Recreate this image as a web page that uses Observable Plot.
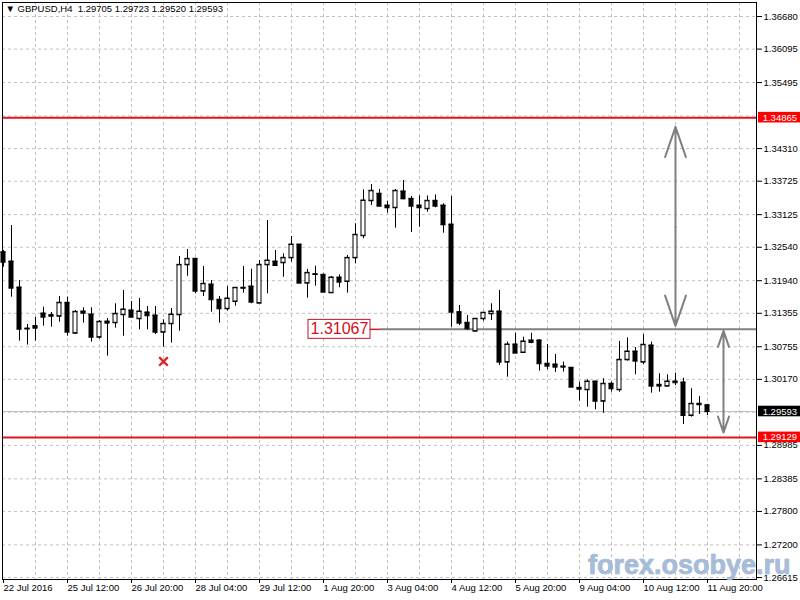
<!DOCTYPE html>
<html><head><meta charset="utf-8">
<script src="https://cdn.jsdelivr.net/npm/d3@7"></script>
<script src="https://cdn.jsdelivr.net/npm/@observablehq/plot@0.6"></script>
<style>body{margin:0;background:#fff} #chart svg{display:block}</style>
</head><body><div id="chart"></div>
<script>
const symbolName = "GBPUSD,H4";
const opens = [
1.32451,1.32284,1.31818,1.31082,1.31124,1.31352,1.31321,1.31303,1.31544,1.30998,
1.31388,1.31334,1.30926,1.31208,1.31185,1.31329,1.31406,1.31257,1.31370,1.31316,
1.31016,1.31167,1.31329,1.32225,1.32332,1.31752,1.31872,1.31598,1.31436,1.31567,
1.31813,1.31836,1.31537,1.32225,1.32284,1.32261,1.32350,1.32589,1.31896,1.32056,
1.32045,1.31723,1.31997,1.31926,1.32350,1.32746,1.33374,1.33500,1.33289,1.33248,
1.33541,1.33409,1.33289,1.33230,1.33374,1.33289,1.32948,1.31375,1.31185,1.31034,
1.31257,1.31346,1.31388,1.30479,1.30796,1.30652,1.30868,1.30868,1.30450,1.30437,
1.30401,1.30378,1.30019,1.29983,1.30132,1.29778,1.30091,1.29983,1.30521,1.30670,
1.30479,1.30778,1.30073,1.30048,1.30132,1.30114,1.29522,1.29732,1.29705];
const highs = [
1.32482,1.32930,1.31944,1.31154,1.31280,1.31465,1.31370,1.31657,1.31644,1.31406,
1.31454,1.31454,1.31226,1.31262,1.31526,1.31765,1.31567,1.31621,1.31477,1.31477,
1.31239,1.31441,1.32374,1.32500,1.32343,1.32194,1.31944,1.31657,1.31836,1.31818,
1.32194,1.32146,1.32302,1.33020,1.32482,1.32422,1.32733,1.32589,1.32141,1.32200,
1.32063,1.32015,1.32045,1.32392,1.32961,1.33571,1.33666,1.33577,1.33361,1.33577,
1.33738,1.33451,1.33462,1.33462,1.33480,1.33320,1.33451,1.31495,1.31316,1.31262,
1.31375,1.31526,1.31765,1.30838,1.30998,1.30926,1.30998,1.30880,1.30796,1.30617,
1.30479,1.30378,1.30120,1.30163,1.30132,1.30180,1.30120,1.30850,1.30916,1.30742,
1.30975,1.30838,1.30270,1.30252,1.30281,1.30191,1.30001,1.29863,1.29723];
const lows = [
1.32182,1.31644,1.30855,1.30784,1.30855,1.31124,1.31106,1.31196,1.30944,1.30975,
1.31178,1.30838,1.30890,1.30586,1.31088,1.30944,1.31274,1.31059,1.31059,1.30975,
1.30748,1.30820,1.31034,1.32020,1.31705,1.31657,1.31375,1.31178,1.31393,1.31483,
1.31716,1.31526,1.31526,1.31705,1.32200,1.32002,1.32272,1.31890,1.31626,1.31842,
1.31730,1.31720,1.31813,1.31716,1.32243,1.32692,1.33289,1.33259,1.33151,1.32882,
1.33391,1.32805,1.32900,1.33169,1.33248,1.32792,1.31106,1.31136,1.31047,1.31030,
1.31213,1.31226,1.30420,1.30209,1.30636,1.30648,1.30809,1.30317,1.30343,1.30294,
1.30300,1.30019,1.29778,1.29671,1.29624,1.29563,1.29940,1.29940,1.30497,1.30252,
1.30437,1.29922,1.29940,1.30045,1.30060,1.29360,1.29492,1.29540,1.29520];
const closes = [
1.32272,1.31806,1.31070,1.31073,1.31088,1.31285,1.31303,1.31544,1.31016,1.31382,
1.31357,1.30926,1.31203,1.31178,1.31346,1.31424,1.31285,1.31388,1.31311,1.31016,
1.31167,1.31334,1.32225,1.32332,1.31752,1.31885,1.31598,1.31436,1.31621,1.31813,
1.31806,1.31555,1.32225,1.32302,1.32212,1.32350,1.32589,1.31896,1.32081,1.32051,
1.31734,1.31997,1.31913,1.32350,1.32764,1.33379,1.33553,1.33277,1.33248,1.33553,
1.33409,1.33277,1.33248,1.33374,1.33277,1.32943,1.31375,1.31178,1.31077,1.31257,
1.31365,1.31388,1.30479,1.30796,1.30640,1.30850,1.30832,1.30450,1.30407,1.30389,
1.30389,1.30030,1.29994,1.30132,1.29778,1.30091,1.30001,1.30521,1.30670,1.30497,
1.30791,1.30048,1.30048,1.30132,1.30109,1.29522,1.29732,1.29714,1.29593];

const timeLabels = ["22 Jul 2016","25 Jul 12:00","26 Jul 20:00","28 Jul 04:00","29 Jul 12:00","1 Aug 20:00","3 Aug 04:00","4 Aug 12:00","5 Aug 20:00","9 Aug 04:00","10 Aug 12:00","11 Aug 20:00"];
const priceTicks = [1.36680,1.36095,1.35495,1.34310,1.33725,1.33125,1.32540,1.31940,1.31355,1.30755,1.30170,1.28985,1.28385,1.27800,1.27200,1.26615];
const hiddenGrid = [1.34895,1.29580];
const redLevels = [1.34865,1.29129];
const midLevel = 1.31067;
const arrowsAnn = [{i:84, mid:1.32900, a:1.34700, b:1.31130},{i:90, mid:1.30130, a:1.31040, b:1.29215}];
const crossMark = [{i:20, price:1.30491}];
const watermark = "forex.osobye.ru";

const bars = opens.map((o,i)=>({i, open:o, high:highs[i], low:lows[i], close:closes[i]}));
const last = bars[bars.length-1];
const lastClose = last.close;
const markers = [
  {price:redLevels[0], color:"#ff0000"},
  {price:lastClose, color:"#000000"},
  {price:redLevels[1], color:"#ff0000"}
];
const titleText = `▼ ${symbolName}  ${last.open.toFixed(5)} ${last.high.toFixed(5)} ${last.low.toFixed(5)} ${last.close.toFixed(5)}`;
const xTickIdx = timeLabels.map((_,k)=>k*8);
const font = "'Liberation Sans', Arial, sans-serif";
const gridStyle = {stroke:"#c0c0c0", strokeOpacity:1, strokeDasharray:"3,3"};
const hw = 0.25;

const chart = Plot.plot({
  width:800, height:600,
  marginLeft:2, marginRight:44, marginTop:2, marginBottom:21,
  style:{fontFamily:font, fontSize:"9.5px", background:"#fff", color:"#000", overflow:"visible"},
  x:{type:"linear", domain:[0,88], range:[3,707], label:null},
  y:{type:"linear", domain:[1.26615,1.36680], range:[577,16], label:null},
  color:{type:"identity"},
  marks:[
    Plot.gridX(d3.range(4,93,4), gridStyle),
    Plot.gridY(priceTicks.concat(hiddenGrid), gridStyle),
    Plot.ruleY([lastClose], {stroke:"#c0c0c0", strokeWidth:1}),
    Plot.ruleY(redLevels, {stroke:"#e3141b", strokeWidth:2}),
    Plot.ruleY([midLevel], {x1:47.125, x2:94.125, stroke:"#808080", strokeWidth:2}),
    Plot.ruleY([midLevel], {x1:45.875, x2:47.125, stroke:"#d01a2a", strokeWidth:1.5}),
    Plot.ruleX(bars, {x:"i", y1:"low", y2:"high", stroke:"#000", strokeWidth:1}),
    Plot.rect(bars.filter(d=>d.close>=d.open), {x1:d=>d.i-hw, x2:d=>d.i+hw, y1:"open", y2:"close", fill:"#fff", stroke:"#000", strokeWidth:1}),
    Plot.rect(bars.filter(d=>d.close<d.open), {x1:d=>d.i-hw, x2:d=>d.i+hw, y1:"open", y2:"close", fill:"#000", stroke:"#000", strokeWidth:1}),
    Plot.ruleY(bars, {y:"open", x1:d=>d.i-0.3125, x2:d=>d.i+0.3125, stroke:"#000"}),
    Plot.ruleY(bars, {y:"close", x1:d=>d.i-0.3125, x2:d=>d.i+0.3125, stroke:"#000"}),
    Plot.rect([midLevel], {x1:38.125, x2:45.875, y1:d=>d-0.0017, y2:d=>d+0.0017, fill:"#fff", stroke:"#c8102e", strokeWidth:1}),
    Plot.text([midLevel], {x:42, y:d=>d, text:d=>d.toFixed(5), fill:"#d01020", fontSize:16}),
    Plot.arrow(arrowsAnn, {x1:"i", x2:"i", y1:"mid", y2:"a", stroke:"#808080", strokeWidth:2, headLength:24, headAngle:38}),
    Plot.arrow(arrowsAnn, {x1:"i", x2:"i", y1:"mid", y2:"b", stroke:"#808080", strokeWidth:2, headLength:24, headAngle:38}),
    Plot.dot(crossMark, {x:"i", y:"price", symbol:"times", stroke:"#e02020", strokeWidth:2.2, r:4}),
    Plot.frame({stroke:"#000"}),
    Plot.text([watermark], {frameAnchor:"bottom-right", textAnchor:"end", dx:34, dy:-6, fontSize:27, fontWeight:"bold", fill:"#a6bcd8", stroke:"#8aa6c8", strokeWidth:0.6}),
    Plot.axisY(priceTicks, {anchor:"right", tickSize:5, tickPadding:2, tickFormat:d=>d.toFixed(5), label:null, fontSize:9.5}),
    Plot.axisX(xTickIdx, {anchor:"bottom", tickSize:4, tickPadding:1, tickFormat:d=>timeLabels[d/8], textAnchor:"start", label:null, fontSize:9.5}),
    Plot.rect(markers, {x1:94.375, x2:99.7, y1:d=>d.price-0.00095, y2:d=>d.price+0.00095, fill:"color"}),
    Plot.text(markers, {x:94.9, y:"price", text:d=>d.price.toFixed(5), fill:"#fff", textAnchor:"start", fontSize:9.5}),
    Plot.text([titleText], {frameAnchor:"top-left", dx:3, dy:3, lineAnchor:"top", textAnchor:"start", fontSize:9.5})
  ]
});
document.getElementById("chart").appendChild(chart);
</script></body></html>
